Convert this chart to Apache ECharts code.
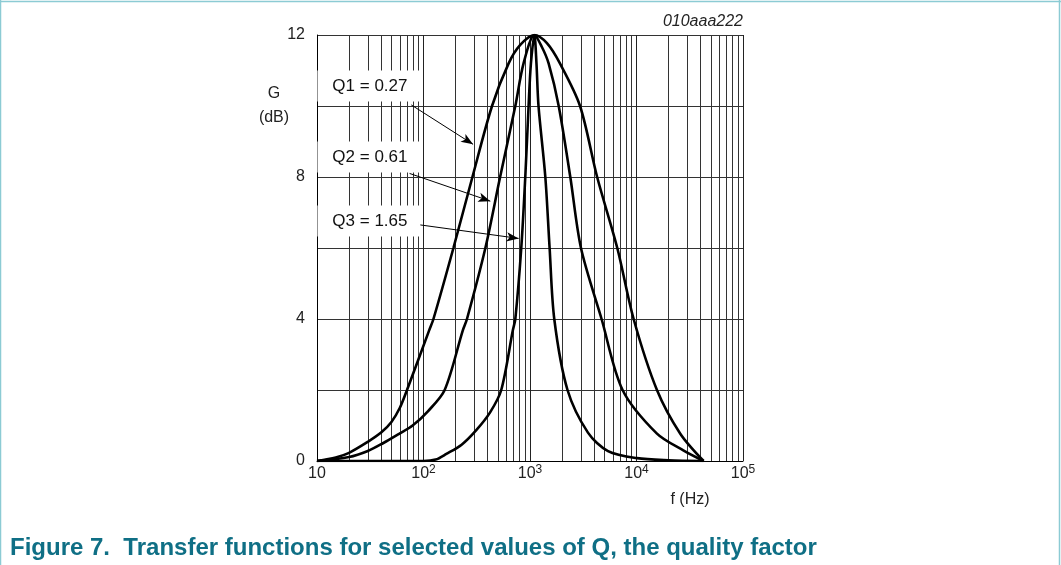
<!DOCTYPE html>
<html>
<head>
<meta charset="utf-8">
<title>Transfer functions</title>
<script src="https://cdn.jsdelivr.net/npm/echarts@6/dist/echarts.min.js"></script>
<style>
  * { margin: 0; padding: 0 }
  html, body { width: 100%; height: 100%; background: #fff; }
  #main { width: 1061px; height: 565px; }
</style>
</head>
<body>
<div id="main"></div>
<script>
// --- data ---
// frequency (Hz) and gain (dB) for each curve
var freqQ1 = [10, 15, 20, 30, 40, 50, 60, 70, 113, 124, 191, 288, 440, 630, 810, 1100, 1442, 1910, 2950, 4270, 6600, 9400, 15560, 25770, 42660];
var gainQ1 = [0, 0.1, 0.23, 0.54, 0.8, 1.1, 1.5, 2, 3.68, 4, 6, 8, 10, 11.2, 11.72, 12, 11.77, 11.2, 10, 8, 6, 4, 2, 0.77, 0];

var freqQ2 = [10, 20, 30, 41.6, 60, 79, 110, 158, 234, 256, 381, 524, 728, 870, 1100, 1290, 1496, 1860, 2390, 3010, 4700, 7400, 15560, 27500, 42660];
var gainQ2 = [0, 0.11, 0.28, 0.5, 0.78, 1, 1.4, 2, 3.68, 4, 6, 8, 10, 11.2, 12, 11.67, 11.2, 10, 8, 6, 4, 2, 0.77, 0.3, 0];

var freqQ3 = [10, 100, 130, 164, 228, 313, 422, 537, 690, 728, 828, 903, 970, 1020, 1100, 1150, 1202, 1393, 1528, 1690, 2250, 3500, 5400, 10100, 20000, 42660];
var gainQ3 = [0, 0, 0.04, 0.2, 0.46, 0.87, 1.37, 2, 3.68, 4, 6, 8, 10, 11.2, 12, 11.2, 10, 8, 6, 4, 2, 0.8, 0.28, 0.08, 0.02, 0];

// curve labels and where their arrows point
var qLabels = ['Q1 = 0.27', 'Q2 = 0.61', 'Q3 = 1.65'];
var labelPos = [[31.4, 10.56], [31.4, 8.56], [31.4, 6.76]];
var arrowFrom = [[76.8, 10.03], [74, 8.10], [93.4, 6.65]];
var arrowTo = [[292, 8.92], [424, 7.32], [782, 6.27]];

// minor vertical grid (2..9 x 10^n)
var minorGrid = [20, 30, 40, 50, 60, 70, 80, 90,
  200, 300, 400, 500, 600, 700, 800, 900,
  2000, 3000, 4000, 5000, 6000, 7000, 8000, 9000,
  20000, 30000, 40000, 50000, 60000, 70000, 80000, 90000];

var yTicks = [0, 4, 8, 12];

function pairs(f, g) {
  return f.map(function (v, i) { return [v, g[i]]; });
}

var chart = echarts.init(document.getElementById('main'));
var font = 'Liberation Sans, Arial, sans-serif';
var curves = [pairs(freqQ1, gainQ1), pairs(freqQ2, gainQ2), pairs(freqQ3, gainQ3)];

var series = [{
  // minor grid lines
  type: 'line',
  data: [],
  silent: true,
  markLine: {
    z: 1,
    silent: true,
    animation: false,
    symbol: 'none',
    label: { show: false },
    lineStyle: { color: '#333', width: 1, type: 'solid' },
    data: minorGrid.map(function (v) { return { xAxis: v }; })
  }
}];

curves.forEach(function (d, i) {
  series.push({
    type: 'line',
    name: qLabels[i],
    data: d,
    z: 3,
    smooth: 0.3,
    showSymbol: false,
    symbol: 'none',
    lineStyle: { color: '#000', width: 2.6 },
    markPoint: {
      z: 2,
      silent: true,
      animation: false,
      symbol: 'rect',
      symbolSize: [105, 31],
      itemStyle: { color: '#fff' },
      label: {
        show: true, position: 'inside', color: '#111',
        fontSize: 17, fontFamily: font,
        formatter: qLabels[i]
      },
      data: [{ coord: labelPos[i] }]
    },
    markLine: {
      z: 4,
      silent: true,
      animation: false,
      symbol: ['none', 'arrow'],
      symbolSize: [7, 12],
      label: { show: false },
      lineStyle: { color: '#000', width: 1, type: 'solid' },
      data: [[{ coord: arrowFrom[i] }, { coord: arrowTo[i] }]]
    }
  });
});

chart.setOption({
  animation: false,
  grid: { left: 317, right: 318, top: 35, bottom: 104 },
  xAxis: {
    type: 'log',
    logBase: 10,
    min: 10,
    max: 100000,
    axisLine: { lineStyle: { color: '#000', width: 1 } },
    axisTick: { show: false },
    splitLine: { show: true, lineStyle: { color: '#222', width: 1 } },
    axisLabel: {
      margin: 3,
      color: '#222',
      fontSize: 16,
      fontFamily: font,
      formatter: function (v) {
        var e = Math.round(Math.log(v) / Math.LN10);
        if (e === 1) return '{b|10}';
        return '{b|10}{s|' + e + '}';
      },
      rich: {
        b: { fontSize: 16, fontFamily: font, color: '#222', lineHeight: 20 },
        s: { fontSize: 12, fontFamily: font, color: '#222', lineHeight: 20, padding: [0, 0, 9, 0] }
      }
    }
  },
  yAxis: {
    type: 'value',
    min: 0,
    max: 12,
    interval: 2,
    axisLine: { show: true, lineStyle: { color: '#000', width: 1 } },
    axisTick: { show: false },
    splitLine: { show: true, lineStyle: { color: '#333', width: 1 } },
    axisLabel: {
      margin: 12,
      color: '#222',
      fontSize: 16,
      fontFamily: font,
      formatter: function (v) { return yTicks.indexOf(v) >= 0 ? String(v) : ''; }
    }
  },
  graphic: [
    { type: 'line', shape: { x1: 0.5, y1: 0, x2: 0.5, y2: 565 }, style: { stroke: '#8ccbd4', lineWidth: 1.5 } },
    { type: 'line', shape: { x1: 0, y1: 1.5, x2: 1061, y2: 1.5 }, style: { stroke: '#8ccbd4', lineWidth: 1.5 } },
    { type: 'line', shape: { x1: 1059.5, y1: 0, x2: 1059.5, y2: 565 }, style: { stroke: '#8ccbd4', lineWidth: 1.5 } },
    { type: 'text', x: 274, y: 94, style: { text: 'G', fontSize: 16, fontFamily: font, fill: '#222', align: 'center', verticalAlign: 'middle' } },
    { type: 'text', x: 274, y: 118, style: { text: '(dB)', fontSize: 16, fontFamily: font, fill: '#222', align: 'center', verticalAlign: 'middle' } },
    { type: 'text', x: 690, y: 500, style: { text: 'f (Hz)', fontSize: 16, fontFamily: font, fill: '#222', align: 'center', verticalAlign: 'middle' } },
    { type: 'text', x: 743, y: 22, style: { text: '010aaa222', fontSize: 16, fontStyle: 'italic', fontFamily: font, fill: '#222', align: 'right', verticalAlign: 'middle' } },
    { type: 'text', x: 10, y: 548, style: { text: 'Figure 7.  Transfer functions for selected values of Q, the quality factor', fontSize: 24, fontWeight: 'bold', fontFamily: font, fill: '#0f6f85', align: 'left', verticalAlign: 'middle' } }
  ],
  series: series
});
</script>
</body>
</html>
